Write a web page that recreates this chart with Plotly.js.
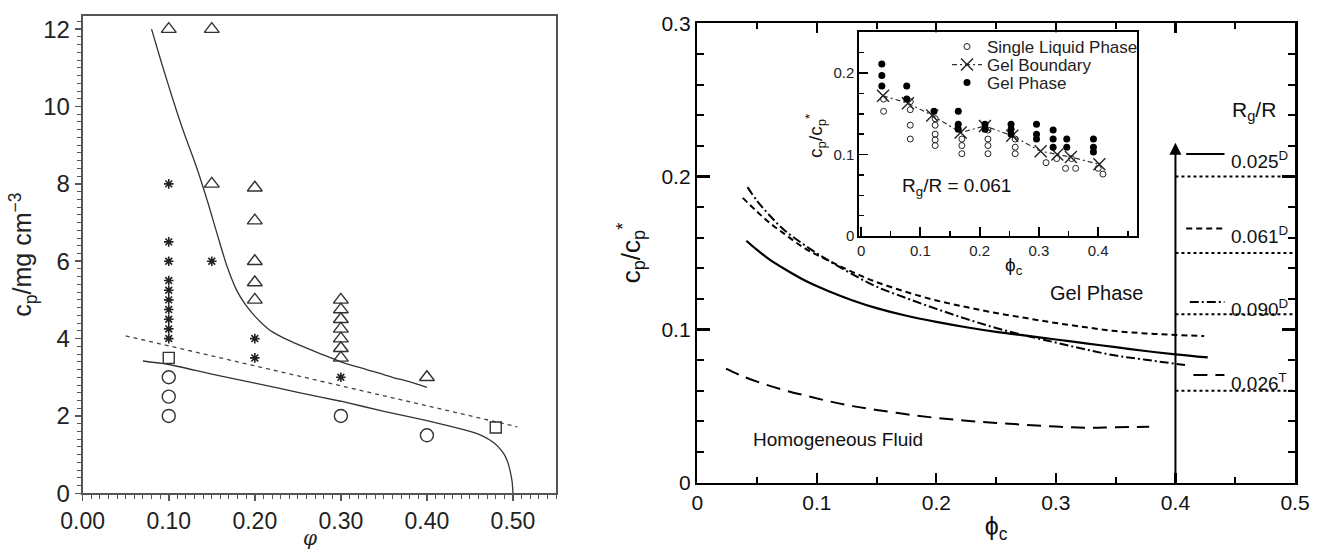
<!DOCTYPE html>
<html>
<head>
<meta charset="utf-8">
<script src="https://cdn.plot.ly/plotly-3.0.1.min.js"></script>
<style>html,body{margin:0;padding:0;background:#fff;}#chart{width:1317px;height:552px;}</style>
</head>
<body>
<div id="chart"></div>
<script>
// ---------- Left panel data ----------
const triPhi = [0.10, 0.15, 0.15, 0.20, 0.20, 0.20, 0.20, 0.20, 0.30, 0.30, 0.30, 0.30, 0.30, 0.30, 0.30, 0.40];
const triCp  = [12.0, 12.0, 8.0, 7.9, 7.05, 6.0, 5.45, 5.0, 5.0, 4.75, 4.5, 4.25, 4.0, 3.75, 3.5, 3.0];
const starPhi = [0.10, 0.10, 0.10, 0.10, 0.10, 0.10, 0.10, 0.10, 0.10, 0.10, 0.15, 0.20, 0.20, 0.30];
const starCp  = [8.0, 6.5, 6.0, 5.5, 5.25, 5.0, 4.75, 4.5, 4.25, 4.0, 6.0, 4.0, 3.5, 3.0];
const circPhi = [0.10, 0.10, 0.10, 0.30, 0.40];
const circCp  = [3.0, 2.5, 2.0, 2.0, 1.5];
const sqPhi = [0.10, 0.48];
const sqCp  = [3.5, 1.7];
const upperPhi = [0.080, 0.092, 0.105, 0.118, 0.132, 0.145, 0.156, 0.168, 0.180, 0.190, 0.200, 0.210, 0.220, 0.235, 0.250, 0.275, 0.300, 0.330, 0.360, 0.380, 0.400];
const upperCp  = [12.0, 11.1, 10.17, 9.3, 8.45, 7.55, 6.72, 5.85, 5.2, 4.85, 4.58, 4.36, 4.18, 4.0, 3.85, 3.62, 3.4, 3.2, 3.0, 2.88, 2.74];
const lowerPhi = [0.070, 0.100, 0.150, 0.200, 0.250, 0.300, 0.350, 0.400, 0.430, 0.450, 0.465, 0.477, 0.485, 0.490, 0.494, 0.497, 0.499, 0.500];
const lowerCp  = [3.42, 3.33, 3.08, 2.85, 2.61, 2.38, 2.12, 1.88, 1.72, 1.60, 1.48, 1.32, 1.15, 1.0, 0.8, 0.55, 0.3, 0.0];
const dotPhi = [0.05, 0.505];
const dotCp  = [4.07, 1.72];

// ---------- Right panel data ----------
const phi025 = [0.041, 0.05, 0.06, 0.072, 0.09, 0.11, 0.13, 0.15, 0.175, 0.2, 0.225, 0.25, 0.275, 0.3, 0.325, 0.35, 0.375, 0.4, 0.427];
const c025   = [0.158, 0.152, 0.146, 0.140, 0.132, 0.125, 0.119, 0.114, 0.109, 0.105, 0.1015, 0.0985, 0.096, 0.0935, 0.091, 0.0885, 0.086, 0.0838, 0.0818];
const phi061 = [0.038, 0.05, 0.06, 0.072, 0.09, 0.11, 0.13, 0.15, 0.175, 0.2, 0.225, 0.25, 0.275, 0.3, 0.325, 0.35, 0.375, 0.4, 0.424];
const c061   = [0.186, 0.177, 0.170, 0.163, 0.153, 0.145, 0.1375, 0.131, 0.1245, 0.119, 0.1147, 0.1108, 0.1075, 0.1043, 0.1015, 0.099, 0.0975, 0.0965, 0.0958];
const phi090 = [0.042, 0.05, 0.06, 0.072, 0.09, 0.11, 0.13, 0.15, 0.175, 0.2, 0.225, 0.25, 0.275, 0.3, 0.325, 0.35, 0.375, 0.408];
const c090   = [0.193, 0.184, 0.175, 0.1655, 0.155, 0.145, 0.136, 0.128, 0.1205, 0.1135, 0.107, 0.101, 0.096, 0.0915, 0.087, 0.083, 0.0803, 0.0768];
const phi026 = [0.024, 0.035, 0.05, 0.07, 0.09, 0.11, 0.13, 0.15, 0.175, 0.2, 0.225, 0.25, 0.275, 0.3, 0.325, 0.35, 0.378];
const c026   = [0.0745, 0.0705, 0.066, 0.061, 0.057, 0.0532, 0.050, 0.0475, 0.0447, 0.0423, 0.0405, 0.039, 0.0378, 0.0367, 0.0358, 0.0362, 0.0365];
const limitPhi = [0.4, 0.5];
const limitC = [0.2, 0.15, 0.11, 0.06];
const keyLabels = ['0.025<sup>D</sup>', '0.061<sup>D</sup>', '0.090<sup>D</sup>', '0.026<sup>T</sup>'];

// ---------- Inset data ----------
const sliPhi = [0.038, 0.038, 0.083, 0.083, 0.083, 0.083, 0.125, 0.125, 0.125, 0.125, 0.125, 0.170, 0.170, 0.170, 0.214, 0.214, 0.214, 0.214, 0.260, 0.260, 0.260, 0.312, 0.330, 0.345, 0.355, 0.362, 0.400, 0.408];
const sliC   = [0.168, 0.153, 0.165, 0.155, 0.136, 0.119, 0.144, 0.136, 0.125, 0.118, 0.111, 0.119, 0.111, 0.101, 0.130, 0.119, 0.111, 0.101, 0.119, 0.109, 0.101, 0.090, 0.095, 0.083, 0.095, 0.083, 0.083, 0.076];
const gbPhi = [0.037, 0.079, 0.120, 0.168, 0.209, 0.255, 0.303, 0.331, 0.354, 0.402];
const gbC   = [0.172, 0.163, 0.148, 0.127, 0.135, 0.123, 0.104, 0.100, 0.097, 0.088];
const gpPhi = [0.035, 0.035, 0.035, 0.077, 0.077, 0.123, 0.164, 0.164, 0.164, 0.209, 0.209, 0.253, 0.253, 0.253, 0.296, 0.296, 0.296, 0.324, 0.324, 0.324, 0.347, 0.347, 0.392, 0.392, 0.392];
const gpC   = [0.211, 0.197, 0.184, 0.184, 0.168, 0.153, 0.153, 0.137, 0.131, 0.137, 0.131, 0.137, 0.131, 0.125, 0.137, 0.125, 0.119, 0.130, 0.119, 0.109, 0.119, 0.109, 0.119, 0.109, 0.103];

const FONT = 'Liberation Sans, Arial, Helvetica, sans-serif';
const L = '#333';

const traces = [
  // left panel
  {x: upperPhi, y: upperCp, xaxis: 'x', yaxis: 'y', mode: 'lines', line: {color: L, width: 1.3, shape: 'spline', smoothing: 0.8}, showlegend: false, hoverinfo: 'skip'},
  {x: lowerPhi, y: lowerCp, xaxis: 'x', yaxis: 'y', mode: 'lines', line: {color: L, width: 1.3, shape: 'spline', smoothing: 0.6}, showlegend: false, hoverinfo: 'skip'},
  {x: dotPhi, y: dotCp, xaxis: 'x', yaxis: 'y', mode: 'lines', line: {color: '#444', width: 1.3, dash: '4px,4px'}, showlegend: false},
  {x: triPhi, y: triCp, xaxis: 'x', yaxis: 'y', mode: 'markers', marker: {symbol: 'triangle-up-open', size: 13, color: L, line: {width: 1.4}}, showlegend: false},
  {x: starPhi, y: starCp, xaxis: 'x', yaxis: 'y', mode: 'markers', marker: {symbol: 'asterisk-open', size: 8, color: '#222', line: {width: 1.6}}, showlegend: false},
  {x: circPhi, y: circCp, xaxis: 'x', yaxis: 'y', mode: 'markers', marker: {symbol: 'circle-open', size: 13, color: L, line: {width: 1.4}}, showlegend: false},
  {x: sqPhi, y: sqCp, xaxis: 'x', yaxis: 'y', mode: 'markers', marker: {symbol: 'square-open', size: 11, color: L, line: {width: 1.4}}, showlegend: false},
  // right panel
  {x: phi025, y: c025, xaxis: 'x2', yaxis: 'y2', mode: 'lines', line: {color: '#000', width: 2.2, shape: 'spline'}, showlegend: false},
  {x: phi061, y: c061, xaxis: 'x2', yaxis: 'y2', mode: 'lines', line: {color: '#000', width: 2, dash: '6px,4px', shape: 'spline'}, showlegend: false},
  {x: phi090, y: c090, xaxis: 'x2', yaxis: 'y2', mode: 'lines', line: {color: '#000', width: 2, dash: '9px,3px,2px,3px', shape: 'spline'}, showlegend: false},
  {x: phi026, y: c026, xaxis: 'x2', yaxis: 'y2', mode: 'lines', line: {color: '#000', width: 2, dash: '14px,8px', shape: 'spline'}, showlegend: false}
];
limitC.forEach(function (c) {
  traces.push({x: limitPhi, y: [c, c], xaxis: 'x2', yaxis: 'y2', mode: 'lines', line: {color: '#000', width: 2, dash: 'dot'}, showlegend: false});
});
// inset
traces.push(
  {x: sliPhi, y: sliC, xaxis: 'x3', yaxis: 'y3', mode: 'markers', name: 'Single Liquid Phase', legend: 'legend', marker: {symbol: 'circle-open', size: 6, color: '#222', line: {width: 1}}},
  {x: gbPhi, y: gbC, xaxis: 'x3', yaxis: 'y3', mode: 'lines+markers', name: 'Gel Boundary', legend: 'legend2', line: {color: '#333', width: 1.2, dash: '5px,3px,2px,3px'}, marker: {symbol: 'x-thin-open', size: 12, color: '#222', line: {width: 1.4}}},
  {x: gpPhi, y: gpC, xaxis: 'x3', yaxis: 'y3', mode: 'markers', name: 'Gel Phase', legend: 'legend3', marker: {symbol: 'circle', size: 7, color: '#000'}}
);

const W = 1317, H = 552;
const px = v => v / W, py = v => 1 - v / H;

const leftAx = {
  showline: true, linecolor: '#555', linewidth: 2, mirror: true, zeroline: false, showgrid: false,
  ticks: 'outside', tickcolor: '#555', tickwidth: 1.5, ticklen: 6,
  tickfont: {family: FONT, size: 24, color: '#222'}
};
const rightAx = {
  showline: true, linecolor: '#000', linewidth: 2.5, mirror: 'allticks', zeroline: false, showgrid: false,
  ticks: 'inside', tickcolor: '#000', tickwidth: 2.2,
  tickfont: {family: FONT, size: 21, color: '#111'}
};
const insetAx = {
  showline: true, linecolor: '#000', linewidth: 2, mirror: true, zeroline: false, showgrid: false,
  ticks: 'inside', tickcolor: '#000', tickwidth: 1.8,
  tickfont: {family: FONT, size: 15, color: '#222'}
};
const legendBase = {xanchor: 'left', yanchor: 'middle', bgcolor: 'rgba(0,0,0,0)', font: {family: FONT, size: 17, color: '#222'}, itemwidth: 30, borderwidth: 0};

const keyDash = ['solid', '6px,4px', '9px,3px,2px,3px', '14px,8px'];
const keyY = [0.2147, 0.166, 0.118, 0.0703];
const keyX0 = [0.409, 0.409, 0.412, 0.415];
const labelY = [0.2108, 0.162, 0.114, 0.066];
const shapes = keyY.map((y, i) => ({
  type: 'line', xref: 'x2', yref: 'y2', x0: keyX0[i], x1: 0.441, y0: y, y1: y,
  line: {color: '#000', width: 2, dash: keyDash[i]}
}));
const annotations = keyLabels.map((t, i) => ({
  xref: 'x2', yref: 'y2', x: 0.445, y: labelY[i], xanchor: 'left', yanchor: 'middle',
  text: t, showarrow: false, font: {family: FONT, size: 19, color: '#111'}
}));
annotations.push(
  {xref: 'x2', yref: 'y2', x: 0.4, y: 0.222, ax: 0.4, ay: 0, axref: 'x2', ayref: 'y2', text: '', showarrow: true, arrowhead: 2, arrowsize: 1.2, arrowwidth: 2, arrowcolor: '#000'},
  {xref: 'x2', yref: 'y2', x: 0.446, y: 0.243, xanchor: 'left', text: 'R<sub>g</sub>/R', showarrow: false, font: {family: FONT, size: 21, color: '#111'}},
  {xref: 'x2', yref: 'y2', x: 0.334, y: 0.124, text: 'Gel Phase', showarrow: false, font: {family: FONT, size: 20, color: '#111'}},
  {xref: 'x2', yref: 'y2', x: 0.045, y: 0.028, xanchor: 'left', text: 'Homogeneous Fluid', showarrow: false, font: {family: FONT, size: 19, color: '#111'}},
  {xref: 'x3', yref: 'y3', x: 0.066, y: 0.06, xanchor: 'left', text: 'R<sub>g</sub>/R = 0.061', showarrow: false, font: {family: FONT, size: 19, color: '#111'}},
  {xref: 'paper', yref: 'paper', x: px(815), y: py(112), text: 'c<sub>p</sub>/c<sub>p</sub><sup>*</sup>', textangle: -90, showarrow: false, font: {family: FONT, size: 19, color: '#111'}},
  {xref: 'paper', yref: 'paper', x: px(1003), xanchor: 'left', y: py(266), yanchor: 'middle', text: 'ϕ<sub>c</sub>', showarrow: false, font: {family: FONT, size: 19, color: '#111'}},
  {xref: 'paper', yref: 'paper', x: px(301), y: py(538), yanchor: 'middle', text: '<i>φ</i>', showarrow: false, font: {family: 'DejaVu Serif, Liberation Serif, serif', size: 20, color: '#222'}}
);

const layout = {
  width: W, height: H,
  margin: {l: 0, r: 0, t: 0, b: 0},
  paper_bgcolor: '#fff', plot_bgcolor: '#fff',
  font: {family: FONT, color: '#111'},
  showlegend: true,
  legend: Object.assign({}, legendBase, {x: px(947), y: py(47)}),
  legend2: Object.assign({}, legendBase, {x: px(947), y: py(65)}),
  legend3: Object.assign({}, legendBase, {x: px(947), y: py(83)}),
  xaxis: Object.assign({}, leftAx, {domain: [px(82.7), px(556)], range: [0, 0.55], anchor: 'y', dtick: 0.1, tick0: 0, tickformat: '.2f',
    tickfont: {family: FONT, size: 23, color: '#222'},
    minor: {dtick: 0.01, ticks: 'outside', ticklen: 4, tickcolor: '#555', tickwidth: 1}}),
  yaxis: Object.assign({}, leftAx, {domain: [py(493.3), py(16)], range: [0, 12.34], anchor: 'x', dtick: 2, tick0: 0,
    minor: {dtick: 0.2, ticks: 'outside', ticklen: 4, tickcolor: '#555', tickwidth: 1},
    title: {text: 'c<sub>p</sub>/mg cm<sup>−3</sup>', font: {family: FONT, size: 25, color: '#222'}, standoff: 4}}),
  xaxis2: Object.assign({}, rightAx, {domain: [px(697.3), px(1295)], range: [0, 0.5], anchor: 'y2', dtick: 0.1, tick0: 0, ticklen: 10,
    minor: {dtick: 0.05, ticks: 'inside', ticklen: 6, tickcolor: '#000', tickwidth: 2},
    title: {text: 'ϕ<sub>c</sub>', font: {family: FONT, size: 25, color: '#111'}, standoff: 4}}),
  yaxis2: Object.assign({}, rightAx, {domain: [py(482.7), py(23.3)], range: [0, 0.3], anchor: 'x2', dtick: 0.1, tick0: 0, ticklen: 13,
    minor: {dtick: 0.02, ticks: 'inside', ticklen: 7, tickcolor: '#000', tickwidth: 2},
    title: {text: 'c<sub>p</sub>/c<sub>p</sub><sup>*</sup>', font: {family: FONT, size: 26, color: '#111'}, standoff: 14}}),
  xaxis3: Object.assign({}, insetAx, {domain: [px(859.3), px(1137.3)], range: [-0.003, 0.466], anchor: 'y3', dtick: 0.1, tick0: 0, ticklen: 9,
    minor: {dtick: 0.05, ticks: 'inside', ticklen: 5, tickcolor: '#000', tickwidth: 1.5}}),
  yaxis3: Object.assign({}, insetAx, {domain: [py(236), py(32.3)], range: [0, 0.25], anchor: 'x3', dtick: 0.1, tick0: 0, ticklen: 9,
    minor: {dtick: 0.025, ticks: 'inside', ticklen: 5, tickcolor: '#000', tickwidth: 1.5}}),
  shapes: shapes,
  annotations: annotations
};

Plotly.newPlot('chart', traces, layout, {displayModeBar: false, staticPlot: true});
</script>
</body>
</html>
